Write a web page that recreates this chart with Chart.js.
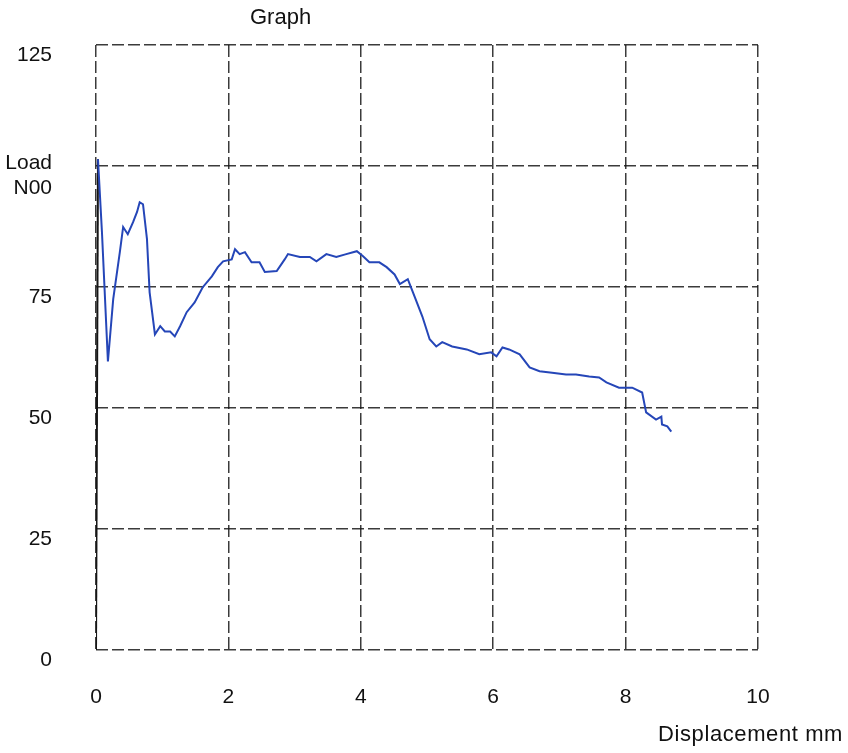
<!DOCTYPE html>
<html>
<head>
<meta charset="utf-8">
<script src="https://cdn.jsdelivr.net/npm/chart.js@4.4.0/dist/chart.umd.min.js"></script>
<style>
  body { margin: 0; background: #fff; }
  #wrap { position: relative; width: 848px; height: 753px; }
  .lbl { position: absolute; font-family: "Liberation Sans", Arial, sans-serif; color: #111; font-size: 22px; white-space: nowrap; }
</style>
</head>
<body>
<div id="wrap">
  <canvas id="chart" width="848" height="753"></canvas>
  <div class="lbl" id="title" style="left:250px; top:4px;">Graph</div>
  <div class="lbl" id="xtitle" style="left:658px; top:721px; letter-spacing:0.6px;">Displacement mm</div>
</div>
<script>
// displacement (mm) and load
const displacement = [0, 0.03, 0.09, 0.18, 0.26, 0.36, 0.41, 0.48, 0.56, 0.62, 0.66, 0.71, 0.77, 0.81, 0.89,
  0.97, 1.04, 1.12, 1.19, 1.27, 1.37, 1.49, 1.61, 1.75, 1.84, 1.92, 2.05, 2.10, 2.17, 2.25, 2.35, 2.47,
  2.55, 2.73, 2.85, 2.90, 3.08, 3.23, 3.33, 3.48, 3.63, 3.78, 3.94, 4.03, 4.13, 4.28, 4.39, 4.51, 4.59,
  4.71, 4.81, 4.93, 5.04, 5.14, 5.23, 5.38, 5.60, 5.79, 5.97, 6.05, 6.14, 6.24, 6.40, 6.55, 6.70, 6.89,
  7.10, 7.25, 7.45, 7.60, 7.71, 7.90, 8.10, 8.25, 8.31, 8.46, 8.54, 8.55, 8.63, 8.69];
const load = [0, 101.4, 86.3, 59.6, 72.5, 82.2, 87.4, 85.9, 88.4, 90.5, 92.5, 92.1, 84.9, 73.9, 65.2,
  66.9, 65.8, 65.8, 64.8, 66.9, 69.8, 71.8, 74.9, 77.2, 79.1, 80.3, 80.7, 82.8, 81.8, 82.2, 80.1, 80.1,
  78.1, 78.3, 80.7, 81.8, 81.2, 81.2, 80.3, 81.8, 81.2, 81.8, 82.4, 81.4, 80.1, 80.1, 79.1, 77.6, 75.6,
  76.6, 73.1, 68.9, 64.2, 62.7, 63.6, 62.7, 62.1, 61.1, 61.5, 60.7, 62.5, 62.1, 61.1, 58.4, 57.6, 57.3,
  56.9, 56.9, 56.5, 56.3, 55.3, 54.2, 54.2, 53.2, 49.1, 47.6, 48.2, 46.6, 46.2, 45.1];

const xTicks = [0, 2, 4, 6, 8, 10];
const yTicks = [0, 25, 50, 75, 100, 125];

const font = { family: '"Liberation Sans", Arial, sans-serif', size: 21 };
const gridStyle = { color: 'rgba(25,25,25,0.85)', lineWidth: 1.5, drawTicks: false };
const dashed = { display: false, dash: [12, 4] };

new Chart(document.getElementById('chart'), {
  type: 'line',
  data: {
    datasets: [{
      data: displacement.map((d, i) => ({ x: d, y: load[i] })),
      borderColor: '#2546b8',
      borderWidth: 2,
      pointRadius: 0,
      tension: 0,
      segment: { borderColor: c => c.p0DataIndex === 0 ? '#151515' : undefined }
    }]
  },
  options: {
    responsive: false,
    animation: false,
    layout: { padding: { top: 45, right: 90, left: 0, bottom: 0 } },
    plugins: { legend: { display: false }, tooltip: { enabled: false } },
    scales: {
      x: {
        type: 'linear', min: 0, max: 10,
        afterBuildTicks: s => { s.ticks = xTicks.map(v => ({ value: v })); },
        afterFit: s => { s.height = 103; s.paddingLeft = 0; s.paddingRight = 0; },
        border: dashed,
        grid: gridStyle,
        ticks: { font, color: '#111', padding: 35 }
      },
      y: {
        min: 0, max: 125,
        afterBuildTicks: s => { s.ticks = yTicks.map(v => ({ value: v })); },
        afterFit: s => { s.width = 96; s.paddingTop = 0; s.paddingBottom = 0; },
        border: dashed,
        grid: gridStyle,
        ticks: {
          font, color: '#111', padding: 44, labelOffset: 10,
          callback: v => v === 100 ? ['Load', 'N00'] : String(v)
        }
      }
    }
  }
});
</script>
</body>
</html>
